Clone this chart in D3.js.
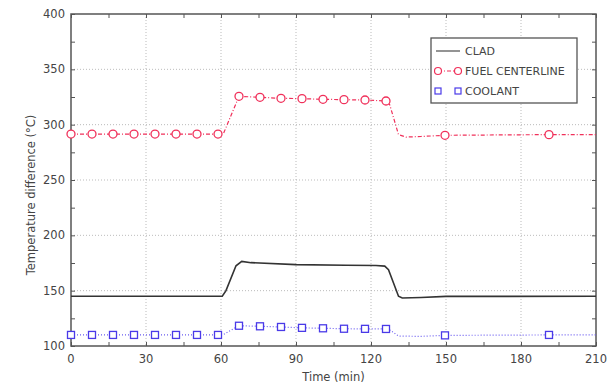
<!DOCTYPE html>
<html>
<head>
<meta charset="utf-8">
<script src="https://cdn.jsdelivr.net/npm/d3@7"></script>
<style>
  body { margin: 0; background: #fff; }
  svg { font-family: "DejaVu Sans", sans-serif; }
</style>
</head>
<body>
<svg id="chart" width="613" height="387"></svg>
<script>
// time axis (min) and values (°C)
const xTicks = [0, 30, 60, 90, 120, 150, 180, 210];
const yTicks = [100, 150, 200, 250, 300, 350, 400];

const cladT = [0, 60.5, 62, 66, 68.3, 72, 90, 110, 122, 125.5, 127, 131, 132.5, 140, 150, 210];
const cladV = [145, 145, 150, 172.5, 176.5, 175.3, 173.5, 173, 172.8, 172.2, 169, 145, 143.4, 143.8, 144.8, 145];

const fuelT = [0, 8.4, 16.8, 25.2, 33.6, 42, 50.4, 58.8, 61, 67.2, 75.6, 84, 92.4, 100.8, 109.2, 117.6, 126, 127.5, 131, 134, 140, 149.6, 170, 191.2, 210];
const fuelV = [291.5, 291.5, 291.5, 291.5, 291.5, 291.5, 291.5, 291.5, 292, 325.6, 324.7, 323.8, 323.5, 322.9, 322.6, 322.3, 321.4, 318, 291, 288.8, 289.3, 290.4, 290.7, 291, 291];
const fuelMarkT = [0, 8.4, 16.8, 25.2, 33.6, 42, 50.4, 58.8, 67.2, 75.6, 84, 92.4, 100.8, 109.2, 117.6, 126, 149.6, 191.2];
const fuelMarkV = [291.5, 291.5, 291.5, 291.5, 291.5, 291.5, 291.5, 291.5, 325.6, 324.7, 323.8, 323.5, 322.9, 322.6, 322.3, 321.4, 290.4, 291];

const coolT = [0, 8.4, 16.8, 25.2, 33.6, 42, 50.4, 58.8, 61, 67.2, 75.6, 84, 92.4, 100.8, 109.2, 117.6, 126, 127.5, 131, 140, 149.6, 191.2, 210];
const coolV = [110, 110, 110, 110, 110, 110, 110, 110, 110.5, 118.3, 117.8, 117.2, 116.4, 116, 115.6, 115.5, 115.4, 114.5, 109, 108.7, 109.6, 110, 110];
const coolMarkT = [0, 8.4, 16.8, 25.2, 33.6, 42, 50.4, 58.8, 67.2, 75.6, 84, 92.4, 100.8, 109.2, 117.6, 126, 149.6, 191.2];
const coolMarkV = [110, 110, 110, 110, 110, 110, 110, 110, 118.3, 117.8, 117.2, 116.4, 116, 115.6, 115.5, 115.4, 109.6, 110];

const legendNames = ["CLAD", "FUEL CENTERLINE", "COOLANT"];

const svg = d3.select("#chart");
const margin = { top: 14, right: 17, bottom: 41, left: 71 };
const W = 613 - margin.left - margin.right;
const H = 387 - margin.top - margin.bottom;

const x = d3.scaleLinear().domain([0, 210]).range([0, W]);
const y = d3.scaleLinear().domain([100, 400]).range([H, 0]);

const g = svg.append("g").attr("transform", `translate(${margin.left},${margin.top})`);

// grid
g.selectAll(".gx").data(xTicks.slice(1, -1)).enter().append("line")
  .attr("x1", d => x(d)).attr("x2", d => x(d))
  .attr("y1", 0).attr("y2", H)
  .attr("stroke", "#aaa").attr("stroke-width", 0.8)
  .attr("stroke-dasharray", "1,2");
g.selectAll(".gy").data(yTicks.slice(1, -1)).enter().append("line")
  .attr("x1", 0).attr("x2", W)
  .attr("y1", d => y(d)).attr("y2", d => y(d))
  .attr("stroke", "#aaa").attr("stroke-width", 0.8)
  .attr("stroke-dasharray", "1,2");

// axes with inward ticks, minor ticks on all sides
const minorX = d3.range(0, 211, 15);
const minorY = d3.range(100, 401, 25);
function tickAxis(axis, vals, size) {
  return axis.tickValues(vals).tickSize(size).tickFormat("");
}
g.append("g").attr("transform", `translate(0,${H})`)
  .call(tickAxis(d3.axisTop(x), minorX, 4));
g.append("g").call(tickAxis(d3.axisBottom(x), minorX, 4));
g.append("g").call(tickAxis(d3.axisRight(y), minorY, 4));
g.append("g").attr("transform", `translate(${W},0)`)
  .call(tickAxis(d3.axisLeft(y), minorY, 4));
g.selectAll(".domain").remove();
g.selectAll(".tick line").attr("stroke", "#555");

// tick labels
g.append("g").selectAll("text").data(xTicks).enter().append("text")
  .attr("x", d => x(d)).attr("y", H + 17)
  .attr("text-anchor", "middle").attr("font-size", 11.5).attr("fill", "#444")
  .text(d => d);
g.append("g").selectAll("text").data(yTicks).enter().append("text")
  .attr("x", -6).attr("y", d => y(d) + 4)
  .attr("text-anchor", "end").attr("font-size", 11.5).attr("fill", "#444")
  .text(d => d);

// frame
g.append("rect").attr("width", W).attr("height", H)
  .attr("fill", "none").attr("stroke", "#555").attr("stroke-width", 1.5);

const line = d3.line().x(d => x(d[0])).y(d => y(d[1]));

// coolant
g.append("path").datum(d3.zip(coolT, coolV)).attr("d", line)
  .attr("fill", "none").attr("stroke", "#6a5cf0").attr("stroke-width", 1.2)
  .attr("stroke-dasharray", "1,2");
g.selectAll(".cm").data(d3.zip(coolMarkT, coolMarkV)).enter().append("rect")
  .attr("x", d => x(d[0]) - 3.5).attr("y", d => y(d[1]) - 3.5)
  .attr("width", 7).attr("height", 7)
  .attr("fill", "#fff").attr("stroke", "#4a3ae8").attr("stroke-width", 1.3);

// fuel centerline
g.append("path").datum(d3.zip(fuelT, fuelV)).attr("d", line)
  .attr("fill", "none").attr("stroke", "#f0305a").attr("stroke-width", 1.2)
  .attr("stroke-dasharray", "4,2,1,2");
g.selectAll(".fm").data(d3.zip(fuelMarkT, fuelMarkV)).enter().append("circle")
  .attr("cx", d => x(d[0])).attr("cy", d => y(d[1])).attr("r", 4)
  .attr("fill", "#fff").attr("stroke", "#f0305a").attr("stroke-width", 1.3);

// clad
g.append("path").datum(d3.zip(cladT, cladV)).attr("d", line)
  .attr("fill", "none").attr("stroke", "#333").attr("stroke-width", 1.6);

// axis titles
svg.append("text").attr("x", margin.left + W / 2).attr("y", 381)
  .attr("text-anchor", "middle").attr("font-size", 11.5).attr("fill", "#444")
  .text("Time (min)");
svg.append("text").attr("transform", "translate(35,195) rotate(-90)")
  .attr("text-anchor", "middle").attr("font-size", 11.5).attr("fill", "#444")
  .text("Temperature difference (°C)");

// legend
const lg = svg.append("g").attr("transform", "translate(431,38)");
lg.append("rect").attr("width", 146).attr("height", 65)
  .attr("fill", "#fff").attr("stroke", "#555").attr("stroke-width", 1.3);
const rows = lg.selectAll(".row").data(legendNames).enter().append("g")
  .attr("transform", (d, i) => `translate(0,${13 + i * 20})`);
rows.append("text").attr("x", 34).attr("y", 4).attr("font-size", 11)
  .attr("fill", "#444").text(d => d);
rows.filter((d, i) => i === 0).append("line")
  .attr("x1", 5).attr("x2", 29).attr("stroke", "#666").attr("stroke-width", 1.4);
const fr = rows.filter((d, i) => i === 1);
fr.append("line").attr("x1", 7).attr("x2", 27)
  .attr("stroke", "#f0305a").attr("stroke-width", 1.2).attr("stroke-dasharray", "4,2,1,2");
fr.selectAll("circle").data([7, 27]).enter().append("circle")
  .attr("cx", d => d).attr("r", 3.5)
  .attr("fill", "#fff").attr("stroke", "#f0305a").attr("stroke-width", 1.2);
rows.filter((d, i) => i === 2).selectAll("rect").data([7, 27]).enter().append("rect")
  .attr("x", d => d - 3).attr("y", -3).attr("width", 6).attr("height", 6)
  .attr("fill", "#fff").attr("stroke", "#4a3ae8").attr("stroke-width", 1.2);
</script>
</body>
</html>
